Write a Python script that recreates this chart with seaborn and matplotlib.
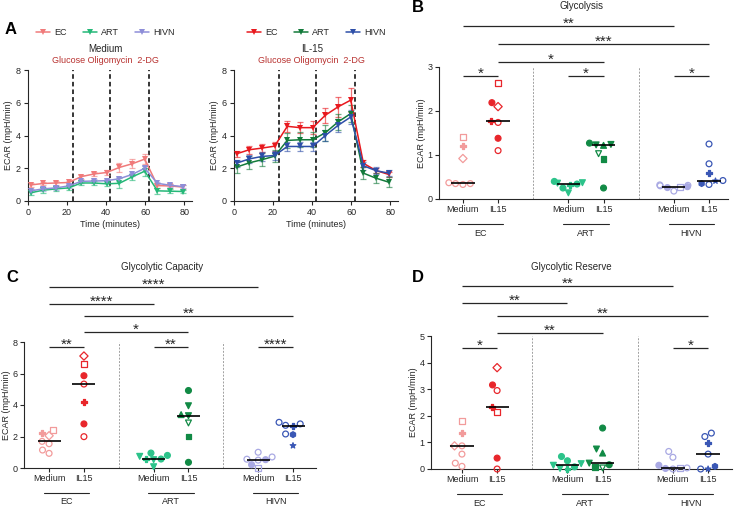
import numpy as np
import pandas as pd
import matplotlib
matplotlib.use("Agg")
import matplotlib.pyplot as plt
import seaborn as sns
from matplotlib.markers import MarkerStyle
from matplotlib.transforms import ScaledTranslation

# ---- Panel A: ECAR time course (mean and SEM) ----
times = [1.3, 7.8, 14.3, 20.8, 27.3, 33.8, 40.3, 46.8, 53.3, 59.8, 66.3, 72.8, 79.3]
injection_times = [23, 42, 62]
injection_text = "Glucose Oligomycin  2-DG"
groups = ["EC", "ART", "HIVN"]

med_ec_mean = [0.98, 1.07, 1.10, 1.13, 1.49, 1.65, 1.74, 2.05, 2.27, 2.56, 0.94, 0.92, 0.85]
med_ec_sem = [0.12, 0.12, 0.12, 0.12, 0.12, 0.12, 0.18, 0.28, 0.28, 0.28, 0.12, 0.10, 0.10]
med_art_mean = [0.50, 0.66, 0.74, 0.80, 1.10, 1.10, 1.05, 1.08, 1.47, 1.82, 0.62, 0.60, 0.58]
med_art_sem = [0.15, 0.15, 0.12, 0.12, 0.12, 0.12, 0.15, 0.30, 0.20, 0.30, 0.20, 0.12, 0.12]
med_hivn_mean = [0.62, 0.74, 0.80, 0.92, 1.20, 1.22, 1.24, 1.36, 1.62, 2.00, 1.08, 0.96, 0.88]
med_hivn_sem = [0.10, 0.10, 0.10, 0.10, 0.10, 0.10, 0.10, 0.12, 0.12, 0.15, 0.10, 0.10, 0.10]

il15_ec_mean = [2.88, 3.13, 3.23, 3.35, 4.56, 4.48, 4.48, 5.24, 5.75, 6.16, 2.30, 1.86, 1.62]
il15_ec_sem = [0.20, 0.25, 0.25, 0.28, 0.35, 0.35, 0.38, 0.45, 0.60, 0.75, 0.20, 0.15, 0.15]
il15_art_mean = [2.07, 2.33, 2.52, 2.74, 3.70, 3.74, 3.74, 4.17, 4.83, 5.34, 1.70, 1.39, 1.15]
il15_art_sem = [0.35, 0.40, 0.40, 0.38, 0.45, 0.45, 0.45, 0.50, 0.50, 0.50, 0.35, 0.30, 0.30]
il15_hivn_mean = [2.31, 2.57, 2.72, 2.78, 3.33, 3.33, 3.33, 4.00, 4.62, 5.13, 2.15, 1.85, 1.70]
il15_hivn_sem = [0.22, 0.25, 0.25, 0.30, 0.30, 0.28, 0.28, 0.35, 0.40, 0.40, 0.25, 0.20, 0.20]

# ---- Panels B-D: per-donor values (Medium / IL15 for each group) ----
conditions = ["Medium", "IL15"]

glyco_ec_med = [1.40, 1.20, 0.92, 0.33, 0.37, 0.35, 0.35]
glyco_ec_il15 = [2.63, 2.10, 2.19, 1.74, 1.78, 1.38, 1.10]
glyco_art_med = [0.40, 0.36, 0.34, 0.37, 0.14, 0.25, 0.32]
glyco_art_il15 = [1.27, 1.24, 1.22, 1.23, 1.03, 0.91, 0.25]
glyco_hivn_med = [0.30, 0.32, 0.28, 0.31, 0.18, 0.26, 0.27]
glyco_hivn_il15 = [1.25, 0.80, 0.60, 0.42, 0.33, 0.35, 0.41]

cap_ec_med = [2.43, 2.22, 2.05, 1.54, 1.69, 0.93, 1.14]
cap_ec_il15 = [6.58, 7.11, 5.86, 5.33, 4.18, 2.80, 1.99]
cap_art_med = [0.80, 0.53, 0.95, 0.74, 0.08, 0.57, 0.55]
cap_art_il15 = [4.92, 3.95, 3.39, 3.32, 2.86, 2.00, 0.36]
cap_hivn_med = [1.00, 0.50, 0.53, 0.56, 0.70, 0.21, 0.00]
cap_hivn_il15 = [2.90, 2.80, 2.69, 2.71, 2.16, 2.12, 1.42]

res_ec_med = [1.81, 1.34, 0.87, 0.87, 0.56, 0.10, 0.22]
res_ec_il15 = [2.14, 3.81, 3.16, 2.95, 2.32, 0.41, 0.00]
res_art_med = [0.47, 0.20, 0.31, 0.14, 0.02, 0.08, 0.00]
res_art_il15 = [1.54, 0.75, 0.60, 0.22, 0.04, 0.06, 0.16]
res_hivn_med = [0.66, 0.44, 0.14, 0.00, 0.04, 0.02, 0.03]
res_hivn_il15 = [1.35, 1.22, 0.98, 0.56, 0.00, 0.10, 0.00]

# significance: (column a, column b, label); columns ordered EC-Med, EC-IL15, ART-Med, ...
glyco_sig = [(0, 4, "**"), (1, 5, "***"), (1, 3, "*"), (0, 1, "*"), (2, 3, "*"), (4, 5, "*")]
cap_sig = [(0, 4, "****"), (0, 2, "****"), (1, 5, "**"), (1, 3, "*"),
           (0, 1, "**"), (2, 3, "**"), (4, 5, "****")]
res_sig = [(0, 4, "**"), (0, 2, "**"), (1, 5, "**"), (1, 3, "**"), (0, 1, "*"), (4, 5, "*")]

# ---- style ----
pal_med = {"EC": "#F07A7A", "ART": "#25B878", "HIVN": "#8E8ED8"}
pal_il15 = {"EC": "#E8191E", "ART": "#137A3B", "HIVN": "#2E4FA8"}
col_colors = ["#F29B9B", "#E8262B", "#2CC38A", "#118A45", "#A9A9E3", "#3A57B5"]
col_markers = [
    ["s", "P", "D", "o", "o", "o", "o"],
    ["s", "D", "o", "o", "P", "o", "o"],
    ["o", "v", "o", "v", "v", "o", "P"],
    ["o", "v", "^", "v", "v", "s", "o"],
    ["o", "o", "o", "o", "o", "o", "s"],
    ["o", "o", "P", "o", "o", "h", "*"],
]
col_fills = [
    [False, True, False, False, False, False, False],
    [False, False, True, False, True, True, False],
    [True, True, True, True, True, True, True],
    [True, True, True, True, False, True, True],
    [False, False, True, False, False, True, False],
    [False, False, True, False, False, True, True],
]
positions = [0, 1, 3, 4, 6, 7]
INK = "#262626"
DARKRED = "#B8312F"

sns.set_theme(style="ticks")
plt.rcParams["font.family"] = ["Liberation Sans", "DejaVu Sans"]
plt.rcParams["axes.linewidth"] = 0.8
plt.rcParams["axes.edgecolor"] = INK
plt.rcParams["xtick.color"] = INK
plt.rcParams["ytick.color"] = INK
plt.rcParams["text.color"] = INK

W, H = 734, 507
fig = plt.figure(figsize=(W / 100, H / 100), dpi=100)


def px_axes(x0, x1, ytop, ybot):
    return fig.add_axes([x0 / W, 1 - ybot / H, (x1 - x0) / W, (ybot - ytop) / H])


def shifted(base, dy_px):
    return base + ScaledTranslation(0, dy_px / 100, fig.dpi_scale_trans)


def timecourse(ax, means, sems, palette, title, legend_x):
    df = pd.DataFrame({
        "Time": times * 3,
        "ECAR": sum(means, []),
        "Group": np.repeat(groups, len(times)),
    })
    for g, m, s in zip(groups, means, sems):
        ax.errorbar(times, m, yerr=s, fmt="none", ecolor=palette[g], elinewidth=0.9,
                    capsize=2.2, capthick=0.9, alpha=0.6, zorder=2)
    sns.lineplot(data=df, x="Time", y="ECAR", hue="Group", style="Group", palette=palette,
                 markers={g: "v" for g in groups}, dashes=False, markersize=5,
                 markeredgewidth=0, linewidth=1.1, ax=ax, zorder=3)
    for t in injection_times:
        ax.axvline(t, color="black", ls=(0, (3, 2)), lw=1.1, zorder=1)
    ax.set_xlim(0, 84)
    ax.set_ylim(0, 8)
    ax.set_xticks([0, 20, 40, 60, 80])
    ax.set_yticks([0, 2, 4, 6, 8])
    ax.tick_params(labelsize=6.5, length=3, width=0.8, pad=2)
    ax.set_xlabel("Time (minutes)", fontsize=6.5, labelpad=2)
    ax.set_ylabel("ECAR (mpH/min)", fontsize=6.5, labelpad=2)
    sns.despine(ax=ax)
    ax.text(0.475, 1.07, injection_text, transform=ax.transAxes, ha="center", va="center",
            fontsize=6.5, color=DARKRED)
    ax.text(0.475, 1.16, title, transform=ax.transAxes, ha="center", va="center", fontsize=7)
    sns.move_legend(ax, "center", bbox_to_anchor=(legend_x, 1.285), ncol=3, frameon=False,
                    title=None, fontsize=6.5, handlelength=1.6, handletextpad=0.4,
                    columnspacing=1.8)


def marker_path(m):
    ms = MarkerStyle(m)
    return ms.get_path().transformed(ms.get_transform())


def scatter_panel(ax, cols, sig, levels, ylim, yticks, xlim):
    for k, (pos, vals) in enumerate(zip(positions, cols)):
        color = col_colors[k]
        sns.swarmplot(x=[pos] * len(vals), y=vals, native_scale=True, orient="v", color=color,
                      size=4.2, ax=ax, zorder=3)
        coll = ax.collections[-1]
        coll.set_paths([marker_path(m) for m in col_markers[k]])
        coll.set_facecolor([color if f else "none" for f in col_fills[k]])
        coll.set_edgecolor(color)
        coll.set_linewidth(0.9)
        coll.set_clip_on(False)
        med = np.median(vals)
        ax.plot([pos - 0.33, pos + 0.33], [med, med], color="black", lw=1.2, zorder=4,
                solid_capstyle="butt")
    for x in (2, 5):
        ax.axvline(x, color="#A0A0A0", ls=(0, (2, 1.5)), lw=0.7, zorder=1)
    star_tr = shifted(ax.transData, -1.5)
    for (a, b, lab), y in zip(sig, levels):
        xa, xb = positions[a], positions[b]
        ax.plot([xa, xb], [y, y], color=INK, lw=0.9, clip_on=False, solid_capstyle="butt")
        ax.text((xa + xb) / 2, y, lab, ha="center", va="baseline", fontsize=11,
                transform=star_tr, clip_on=False)
    ax.set_xlim(*xlim)
    ax.set_ylim(*ylim)
    ax.set_yticks(yticks)
    ax.set_xticks(positions)
    ax.set_xticklabels(conditions * 3)
    ax.tick_params(labelsize=6.5, length=3, width=0.8, pad=1.5)
    ax.set_ylabel("ECAR (mpH/min)", fontsize=6.5, labelpad=1.5)
    ax.set_xlabel("")
    sns.despine(ax=ax)
    for g, i in zip(groups, (0, 2, 4)):
        x0, x1 = positions[i], positions[i + 1]
        ax.plot([x0 - 0.15, x1 + 0.15], [0, 0], transform=shifted(ax.get_xaxis_transform(), -25),
                color=INK, lw=0.8, clip_on=False)
        ax.text((x0 + x1) / 2, 0, g, transform=shifted(ax.get_xaxis_transform(), -34),
                ha="center", va="center", fontsize=6.5)


# Panel A
axA1 = px_axes(28, 192, 70, 201)
timecourse(axA1, [med_ec_mean, med_art_mean, med_hivn_mean],
           [med_ec_sem, med_art_sem, med_hivn_sem], pal_med, "Medium", 0.47)
axA2 = px_axes(234, 398, 70, 201)
timecourse(axA2, [il15_ec_mean, il15_art_mean, il15_hivn_mean],
           [il15_ec_sem, il15_art_sem, il15_hivn_sem], pal_il15, "IL-15", 0.5)

# Panel B
axB = px_axes(439, 728, 67, 199)
scatter_panel(axB, [glyco_ec_med, glyco_ec_il15, glyco_art_med, glyco_art_il15,
                    glyco_hivn_med, glyco_hivn_il15],
              glyco_sig, [3.93, 3.52, 3.11, 2.8, 2.8, 2.8], (0, 3), [0, 1, 2, 3], (-0.68, 7.54))

# Panel C
axC = px_axes(24, 316, 342, 468)
scatter_panel(axC, [cap_ec_med, cap_ec_il15, cap_art_med, cap_art_il15,
                    cap_hivn_med, cap_hivn_il15],
              cap_sig, [11.49, 10.41, 9.65, 8.63, 7.68, 7.68, 7.68], (0, 8), [0, 2, 4, 6, 8],
              (-0.72, 7.66))

# Panel D
axD = px_axes(431, 732, 336, 469)
scatter_panel(axD, [res_ec_med, res_ec_il15, res_art_med, res_art_il15,
                    res_hivn_med, res_hivn_il15],
              res_sig, [6.88, 6.24, 5.75, 5.11, 4.55, 4.55], (0, 5), [0, 1, 2, 3, 4, 5],
              (-0.88, 7.68))

# titles and panel letters
fig.text(582 / W, 1 - 6 / H, "Glycolysis", ha="center", va="center", fontsize=7)
fig.text(162 / W, 1 - 267 / H, "Glycolytic Capacity", ha="center", va="center", fontsize=7)
fig.text(571 / W, 1 - 267 / H, "Glycolytic Reserve", ha="center", va="center", fontsize=7)
for lab, x, y in [("A", 11, 30), ("B", 418, 8), ("C", 12, 278), ("D", 418, 278)]:
    fig.text(x / W, 1 - y / H, lab, ha="center", va="center", fontsize=12, weight="bold",
             color="black")

fig.savefig("out.png", dpi=100)
